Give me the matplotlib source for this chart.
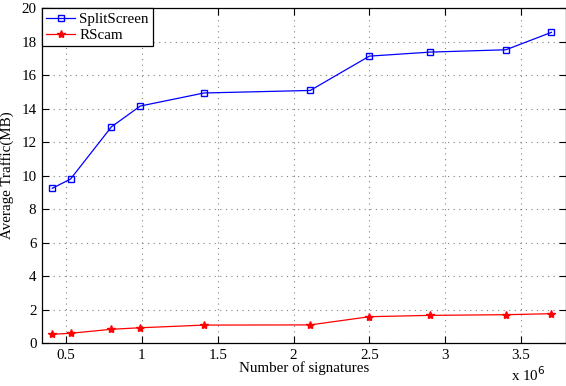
import matplotlib.pyplot as plt
import numpy as np

# signatures (x 10^6)
sigs = [0.41, 0.53, 0.80, 0.99, 1.41, 2.11, 2.50, 2.90, 3.40, 3.70]

# average traffic (MB)
splitScreen = [9.24, 9.79, 12.91, 14.15, 14.93, 15.08, 17.13, 17.37, 17.51, 18.55]
rscam = [0.52, 0.58, 0.82, 0.91, 1.07, 1.08, 1.57, 1.65, 1.69, 1.75]

xticks = [0.5, 1, 1.5, 2, 2.5, 3, 3.5]
yticks = [0, 2, 4, 6, 8, 10, 12, 14, 16, 18, 20]

plt.rcParams['font.family'] = ['Liberation Serif', 'DejaVu Serif']
plt.rcParams['font.size'] = 10.8

fig = plt.figure(figsize=(5.66, 3.86), dpi=100)
ax = fig.add_axes([0.0742, 0.1114, 0.9258, 0.8677])

ax.plot(sigs, splitScreen, color="blue", marker="s", markersize=5,
        markerfacecolor="none", markeredgewidth=1.0, linewidth=0.9, label="SplitScreen")
ax.plot(sigs, rscam, color="red", marker="*", markersize=6,
        linewidth=0.9, label="RScam")

ax.set_xlim(0.342, 3.796)
ax.set_ylim(0, 20)
ax.set_xticks(xticks)
ax.set_xticklabels([("%g" % t) for t in xticks])
ax.set_yticks(yticks)

ax.grid(True, linestyle=(0, (1, 4)), color="gray", linewidth=0.8)
ax.tick_params(direction="in", top=True, right=True, length=5, width=0.8, pad=4)
for s in ax.spines.values():
    s.set_linewidth(0.9)

ax.set_xlabel("Number of signatures", labelpad=0)
ax.set_ylabel("Average Traffic(MB)", labelpad=5)
fig.text(0.903, 0.005, "x 10$^6$", va="bottom", ha="left")

leg = ax.legend(loc="upper left", borderaxespad=0, fancybox=False,
                edgecolor="black", framealpha=1, handlelength=1.9,
                handletextpad=0.3, borderpad=0.3, labelspacing=0.15)
leg.get_frame().set_linewidth(0.9)

plt.savefig("out.png", dpi=100)
